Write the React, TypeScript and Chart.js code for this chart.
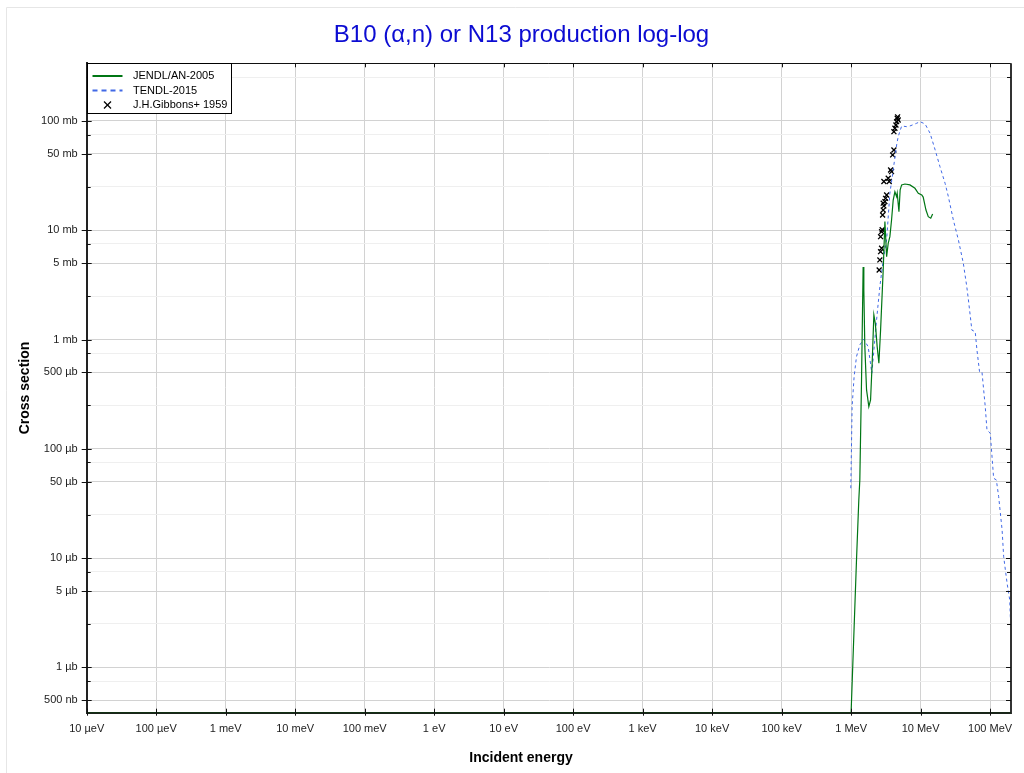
import React, { useEffect, useRef } from 'react';
import { Chart, registerables } from 'chart.js';

Chart.register(...registerables);

const FONT = '"Liberation Sans", Arial, Helvetica, sans-serif';

const chartTitle = 'B10 (α,n) or N13 production log-log';
const xAxisTitle = 'Incident energy';
const yAxisTitle = 'Cross section';

// x axis (energy in eV)
const xMin = 1e-5;
const xMax = 2.0e8;
const xTickValues = [1e-5, 1e-4, 1e-3, 1e-2, 1e-1, 1, 10, 100, 1e3, 1e4, 1e5, 1e6, 1e7, 1e8];
const xTickLabels = ['10 µeV', '100 µeV', '1 meV', '10 meV', '100 meV', '1 eV', '10 eV', '100 eV', '1 keV', '10 keV', '100 keV', '1 MeV', '10 MeV', '100 MeV'];

// y axis (cross section in barns)
const yMin = 3.85e-7;
const yMax = 0.337;
const yMajorValues = [0.1, 0.05, 0.01, 0.005, 0.001, 5e-4, 1e-4, 5e-5, 1e-5, 5e-6, 1e-6, 5e-7];
const yMajorLabels = ['100 mb', '50 mb', '10 mb', '5 mb', '1 mb', '500 µb', '100 µb', '50 µb', '10 µb', '5 µb', '1 µb', '500 nb'];
const yMinorValues = [0.25, 0.075, 0.025, 0.0075, 0.0025, 7.5e-4, 2.5e-4, 7.5e-5, 2.5e-5, 7.5e-6, 2.5e-6, 7.5e-7];

// JENDL/AN-2005 (eV, b)
const jendlEnergy = [1e-5, 1.0e6, 1.196e6, 1.291e6, 1.335e6, 1.413e6, 1.49e6, 1.525e6, 1.576e6, 1.669e6, 1.8e6, 1.906e6, 2.009e6, 2.126e6, 2.235e6, 2.373e6, 2.511e6, 2.656e6, 2.897e6, 3.066e6, 3.245e6, 3.42e6, 3.614e6, 3.82e6, 4.035e6, 4.27e6, 4.52e6, 4.61e6, 4.88e6, 5.08e6, 5.34e6, 5.95e6, 7.03e6, 8.3e6, 9.27e6, 10.4e6, 10.9e6, 11.95e6, 12.9e6, 14.0e6, 14.9e6];
const jendlXs = [3.85e-7, 3.85e-7, 9.6e-6, 3.4e-5, 5.19e-5, 4.27e-4, 4.61e-3, 2.84e-3, 8.61e-4, 3.46e-4, 2.43e-4, 2.8e-4, 6.07e-4, 1.68e-3, 1.39e-3, 8.61e-4, 6.07e-4, 1.22e-3, 4.33e-3, 0.012, 5.73e-3, 7.6e-3, 8.74e-3, 0.0124, 0.0189, 0.0225, 0.0203, 0.0218, 0.0148, 0.0234, 0.026, 0.0265, 0.026, 0.0242, 0.0218, 0.021, 0.0201, 0.0153, 0.0133, 0.0129, 0.0141];

// TENDL-2015 (eV, b)
const tendlEnergy = [0.99e6, 1.034e6, 1.105e6, 1.196e6, 1.335e6, 1.515e6, 1.759e6, 1.99e6, 2.325e6, 2.594e6, 2.897e6, 3.245e6, 3.614e6, 4.035e6, 4.52e6, 4.76e6, 5.34e6, 6.29e6, 7.03e6, 8.79e6, 9.8e6, 11.6e6, 13.7e6, 16.2e6, 19.0e6, 22.5e6, 25.1e6, 29.6e6, 35.0e6, 41.2e6, 46.2e6, 48.8e6, 54.7e6, 61.1e6, 64.7e6, 70.5e6, 76.4e6, 85.2e6, 90.2e6, 100.6e6, 112.5e6, 123.1e6, 132.9e6, 148.9e6, 156.9e6, 175.7e6, 191.6e6, 196e6];
const tendlXs = [4.36e-5, 2.43e-4, 4.58e-4, 6.98e-4, 8.93e-4, 1.007e-3, 8.61e-4, 4.92e-4, 1.51e-3, 3.05e-3, 5.35e-3, 8.15e-3, 0.0218, 0.0356, 0.0603, 0.0718, 0.09, 0.0887, 0.09, 0.0953, 0.0985, 0.0939, 0.0771, 0.0543, 0.0382, 0.0269, 0.0203, 0.0124, 8.15e-3, 4.99e-3, 3.05e-3, 2.3e-3, 1.22e-3, 1.18e-3, 8.04e-4, 5.08e-4, 5.08e-4, 2.43e-4, 1.49e-4, 1.39e-4, 5.38e-5, 5.19e-5, 3.65e-5, 1.81e-5, 1.03e-5, 5.89e-6, 4.15e-6, 2.82e-6];

// J.H.Gibbons+ 1959 (eV, b)
const gibbonsEnergy = [2.535e6, 2.594e6, 2.656e6, 2.746e6, 2.656e6, 2.746e6, 2.8e6, 2.84e6, 2.897e6, 2.964e6, 2.897e6, 3.066e6, 3.13e6, 3.245e6, 2.964e6, 3.42e6, 3.536e6, 3.7e6, 3.82e6, 3.96e6, 4.13e6, 4.13e6, 4.27e6, 4.42e6, 4.52e6, 4.61e6, 4.76e6, 4.67e6];
const gibbonsXs = [4.33e-3, 5.35e-3, 6.37e-3, 6.84e-3, 8.74e-3, 9.71e-3, 0.0101, 0.0138, 0.0153, 0.0167, 0.0177, 0.0183, 0.0196, 0.021, 0.0279, 0.0299, 0.0279, 0.0356, 0.0344, 0.0489, 0.0543, 0.0798, 0.0857, 0.0919, 0.0985, 0.106, 0.102, 0.109];

const seriesNames = ['JENDL/AN-2005', 'TENDL-2015', 'J.H.Gibbons+ 1959'];
const jendlColor = 'rgb(0,118,20)';
const tendlColor = 'rgb(65,105,230)';
const gibbonsColor = '#000';

const pts = (xs: number[], ys: number[]) => xs.map((x, i) => ({ x, y: ys[i] }));

const framePlugin = {
  id: 'frame',
  afterDraw(chart: any) {
    const ctx = chart.ctx as CanvasRenderingContext2D;
    const { left, right, top, bottom } = chart.chartArea;
    const xs = chart.scales.x;
    const ys = chart.scales.y;
    const seg = (x1: number, y1: number, x2: number, y2: number) => {
      ctx.beginPath();
      ctx.moveTo(x1, y1);
      ctx.lineTo(x2, y2);
      ctx.stroke();
    };
    ctx.save();
    // faint outer frame
    ctx.strokeStyle = '#e6e6e6';
    ctx.lineWidth = 1;
    seg(6.5, 7.5, 6.5, 773);
    seg(6.5, 7.5, 1024, 7.5);
    // top and right border
    ctx.strokeStyle = '#111';
    ctx.lineWidth = 1;
    seg(left, Math.round(top) + 0.5, right, Math.round(top) + 0.5);
    ctx.strokeStyle = '#333';
    ctx.lineWidth = 2;
    seg(right, top, right, bottom + 1);
    // bottom axis line redrawn over the clipped data
    ctx.strokeStyle = 'rgba(20,40,20,0.85)';
    ctx.lineWidth = 1.5;
    seg(left, bottom, right, bottom);
    // tick marks
    ctx.strokeStyle = '#111';
    ctx.lineWidth = 1;
    xTickValues.forEach((v) => {
      const px = Math.round(xs.getPixelForValue(v)) + 0.5;
      seg(px, bottom - 4, px, bottom + 3);
      seg(px, top, px, top + 4);
    });
    yMajorValues.forEach((v) => {
      const py = Math.round(ys.getPixelForValue(v)) + 0.5;
      seg(left - 5, py, left + 5, py);
      seg(right - 5, py, right, py);
    });
    yMinorValues.forEach((v) => {
      if (v < yMin || v > yMax) return;
      const py = Math.round(ys.getPixelForValue(v)) + 0.5;
      seg(left, py, left + 4, py);
      seg(right - 4, py, right, py);
    });
    // legend
    const lx = Math.round(left) + 0.5;
    const ly = Math.round(top) + 0.5;
    ctx.fillStyle = '#fff';
    ctx.fillRect(lx, ly, 144, 50);
    ctx.strokeStyle = '#000';
    ctx.lineWidth = 1;
    ctx.strokeRect(lx, ly, 144, 50);
    const rows = [ly + 12.5, ly + 27, ly + 41.5];
    ctx.lineWidth = 2;
    ctx.strokeStyle = jendlColor;
    seg(lx + 5, rows[0], lx + 35, rows[0]);
    ctx.strokeStyle = tendlColor;
    ctx.setLineDash([5, 4]);
    seg(lx + 5, rows[1], lx + 35, rows[1]);
    ctx.setLineDash([]);
    ctx.strokeStyle = gibbonsColor;
    ctx.lineWidth = 1.2;
    const mx = lx + 20;
    const my = rows[2];
    seg(mx - 3.5, my - 3.5, mx + 3.5, my + 3.5);
    seg(mx - 3.5, my + 3.5, mx + 3.5, my - 3.5);
    ctx.fillStyle = '#000';
    ctx.font = `11px ${FONT}`;
    ctx.textAlign = 'left';
    ctx.textBaseline = 'middle';
    seriesNames.forEach((n, i) => ctx.fillText(n, lx + 45.5, rows[i]));
    // chart title
    ctx.fillStyle = 'rgb(12,12,210)';
    ctx.font = `24px ${FONT}`;
    ctx.textAlign = 'center';
    ctx.textBaseline = 'middle';
    ctx.fillText(chartTitle, 521.5, 35.5);
    // x axis title
    ctx.fillStyle = '#000';
    ctx.font = `bold 14px ${FONT}`;
    ctx.fillText(xAxisTitle, 521, 758.3);
    ctx.restore();
  },
};

export default function App() {
  const ref = useRef<HTMLCanvasElement>(null);
  useEffect(() => {
    Chart.defaults.font.family = FONT;
    const chart = new Chart(ref.current as HTMLCanvasElement, {
      type: 'scatter',
      data: {
        datasets: [
          {
            label: seriesNames[0],
            data: pts(jendlEnergy, jendlXs),
            showLine: true,
            borderColor: jendlColor,
            backgroundColor: jendlColor,
            borderWidth: 1.2,
            pointRadius: 0,
            tension: 0,
          },
          {
            label: seriesNames[1],
            data: pts(tendlEnergy, tendlXs),
            showLine: true,
            borderColor: tendlColor,
            backgroundColor: tendlColor,
            borderWidth: 1,
            borderDash: [3, 3],
            pointRadius: 0,
            tension: 0,
          },
          {
            label: seriesNames[2],
            data: pts(gibbonsEnergy, gibbonsXs),
            showLine: false,
            borderColor: gibbonsColor,
            backgroundColor: gibbonsColor,
            pointStyle: 'crossRot',
            pointRadius: 3.5,
            borderWidth: 1.3,
          },
        ],
      } as any,
      options: {
        animation: false,
        responsive: false,
        events: [],
        layout: { padding: { left: 8, right: 13, top: 63.3, bottom: 0 } },
        plugins: {
          legend: { display: false },
          title: { display: false },
          tooltip: { enabled: false },
        },
        scales: {
          x: {
            type: 'logarithmic',
            position: 'bottom',
            min: xMin,
            max: xMax,
            afterBuildTicks: (s: any) => {
              s.ticks = xTickValues.map((v, i) => ({ value: v, lbl: xTickLabels[i] }));
            },
            afterFit: (s: any) => {
              s.height = 60.3;
            },
            ticks: {
              autoSkip: false,
              maxRotation: 0,
              minRotation: 0,
              padding: 10,
              color: '#222',
              font: { family: FONT, size: 11 },
              callback: (_v: any, i: number, t: any[]) => t[i].lbl,
            },
            grid: { color: '#d2d2d2', lineWidth: 1, drawTicks: false },
            border: { display: true, color: '#222', width: 2 },
            title: { display: false },
          },
          y: {
            type: 'logarithmic',
            position: 'left',
            min: yMin,
            max: yMax,
            afterBuildTicks: (s: any) => {
              const major = yMajorValues.map((v, i) => ({ value: v, lbl: yMajorLabels[i], minorTick: false }));
              const minor = yMinorValues
                .filter((v) => v >= yMin && v <= yMax)
                .map((v) => ({ value: v, lbl: '', minorTick: true }));
              s.ticks = [...major, ...minor].sort((a, b) => a.value - b.value);
            },
            afterFit: (s: any) => {
              s.width = 78.7;
            },
            ticks: {
              autoSkip: false,
              padding: 9,
              color: '#222',
              font: { family: FONT, size: 11 },
              callback: (_v: any, i: number, t: any[]) => t[i].lbl,
            },
            grid: {
              color: (c: any) => (c.tick && c.tick.minorTick ? '#efefef' : '#d2d2d2'),
              lineWidth: 1,
              drawTicks: false,
            },
            border: { display: true, color: '#222', width: 2 },
            title: {
              display: true,
              text: yAxisTitle,
              color: '#000',
              font: { family: FONT, size: 14, weight: 'bold' },
              padding: { top: 8.6, bottom: 0 },
            },
          },
        },
      } as any,
      plugins: [framePlugin],
    });
    return () => chart.destroy();
  }, []);
  return (
    <div style={{ position: 'fixed', left: 0, top: 0, width: 1024, height: 773, background: '#fff' }}>
      <canvas ref={ref} width={1024} height={773} style={{ display: 'block', width: 1024, height: 773 }} />
    </div>
  );
}
